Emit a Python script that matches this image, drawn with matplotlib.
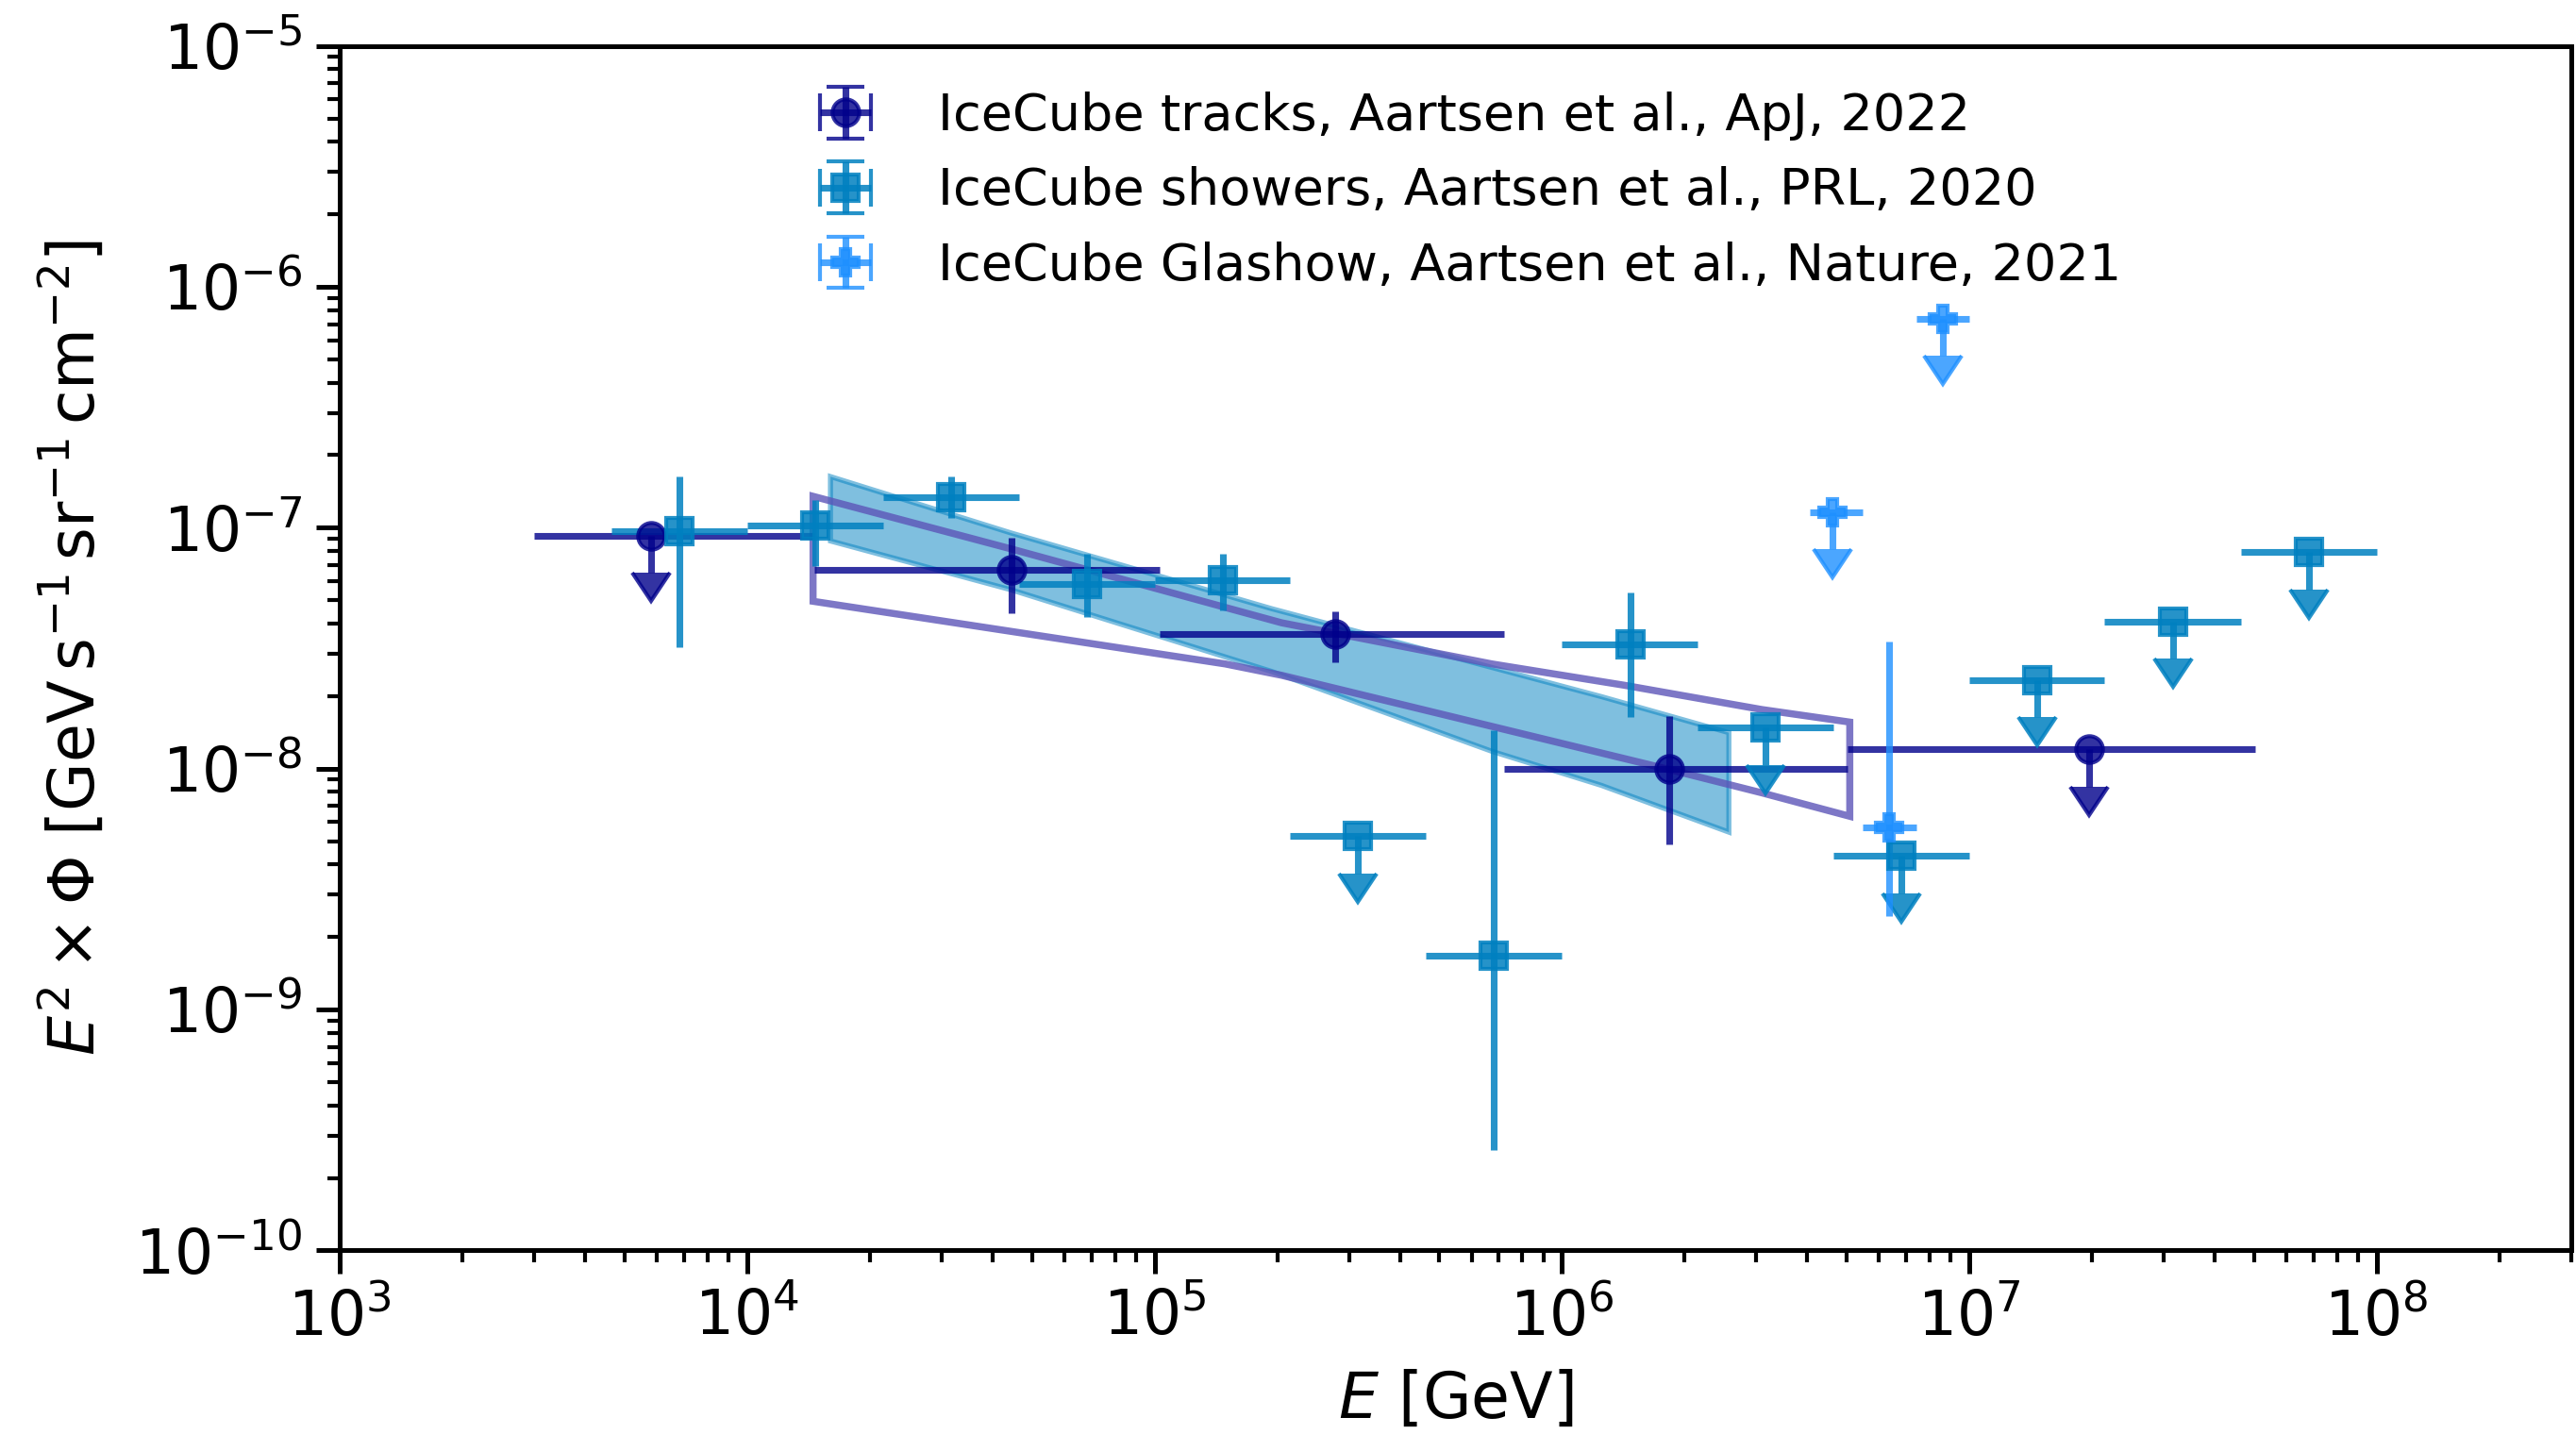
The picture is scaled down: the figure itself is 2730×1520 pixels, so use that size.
import numpy as np
import matplotlib
matplotlib.use('Agg')
import matplotlib.pyplot as plt

# IceCube tracks, Aartsen et al., ApJ 2022
tracks_E = [5.8e3, 4.46e4, 2.78e5, 1.83e6, 1.97e7]
tracks_E_lo = [3.0e3, 1.46e4, 1.03e5, 7.23e5, 5.03e6]
tracks_E_hi = [1.46e4, 1.03e5, 7.23e5, 5.03e6, 5.03e7]
tracks_F = [9.27e-8, 6.67e-8, 3.61e-8, 1.0e-8, 1.2e-8]
tracks_F_lo = [np.nan, 4.43e-8, 2.77e-8, 4.84e-9, np.nan]
tracks_F_hi = [np.nan, 9.1e-8, 4.5e-8, 1.65e-8, np.nan]
tracks_ul = [True, False, False, False, True]

# IceCube showers, Aartsen et al., PRL 2020
showers_E = [6.81e3, 1.47e4, 3.16e4, 6.81e4, 1.47e5, 3.16e5, 6.81e5,
             1.47e6, 3.16e6, 6.81e6, 1.47e7, 3.16e7, 6.81e7]
showers_E_lo = [4.64e3, 1.0e4, 2.15e4, 4.64e4, 1.0e5, 2.15e5, 4.64e5,
                1.0e6, 2.15e6, 4.64e6, 1.0e7, 2.15e7, 4.64e7]
showers_E_hi = [1.0e4, 2.15e4, 4.64e4, 1.0e5, 2.15e5, 4.64e5, 1.0e6,
                2.15e6, 4.64e6, 1.0e7, 2.15e7, 4.64e7, 1.0e8]
showers_F = [9.64e-8, 1.02e-7, 1.34e-7, 5.82e-8, 6.08e-8, 5.25e-9, 1.67e-9,
             3.27e-8, 1.48e-8, 4.35e-9, 2.33e-8, 4.09e-8, 7.92e-8]
showers_F_lo = [3.18e-8, 6.92e-8, 1.10e-7, 4.26e-8, 4.54e-8, np.nan, 2.6e-10,
                1.64e-8, np.nan, np.nan, np.nan, np.nan, np.nan]
showers_F_hi = [1.63e-7, 1.30e-7, 1.63e-7, 7.8e-8, 7.8e-8, np.nan, 1.44e-8,
                5.4e-8, np.nan, np.nan, np.nan, np.nan, np.nan]
showers_ul = [False, False, False, False, False, True, False,
              False, True, True, True, True, True]

# IceCube Glashow, Aartsen et al., Nature 2021
glashow_E = [4.62e6, 6.37e6, 8.63e6]
glashow_E_lo = [4.06e6, 5.47e6, 7.43e6]
glashow_E_hi = [5.47e6, 7.43e6, 1.0e7]
glashow_F = [1.16e-7, 5.71e-9, 7.38e-7]
glashow_F_lo = [np.nan, 2.45e-9, np.nan]
glashow_F_hi = [np.nan, 3.38e-8, np.nan]
glashow_ul = [True, False, True]

# shower fit band
band_E = [1.6e4, 4.45e4, 1.94e5, 6.73e5, 1.25e6, 2.57e6]
band_hi = [1.63e-7, 9.5e-8, 4.61e-8, 2.63e-8, 1.99e-8, 1.41e-8]
band_lo = [8.81e-8, 5.52e-8, 2.53e-8, 1.18e-8, 8.52e-9, 5.45e-9]

# track fit outline
trfit_up_E = [1.45e4, 4.45e4, 2.05e5, 6.73e5, 1.42e6, 3.09e6, 5.09e6]
trfit_up_F = [1.35e-7, 8.16e-8, 4.03e-8, 2.72e-8, 2.22e-8, 1.76e-8, 1.56e-8]
trfit_lo_E = [1.45e4, 1.49e5, 2.05e5, 1.82e6, 3.09e6, 5.09e6]
trfit_lo_F = [4.95e-8, 2.72e-8, 2.44e-8, 9.95e-9, 7.94e-9, 6.34e-9]

ARROW = 0.3  # length of upper-limit arrows, fraction of the value

c_tr = 'darkblue'
c_sh = '#0080c0'
c_gl = 'dodgerblue'
c_fit = '#5c55b8'


def errs(E, E_lo, E_hi, F, F_lo, F_hi, ul):
    E = np.array(E)
    F = np.array(F)
    ul = np.array(ul)
    xerr = [E - np.array(E_lo), np.array(E_hi) - E]
    lo = np.where(ul, ARROW * F, F - np.array(F_lo))
    hi = np.where(ul, 0.0, np.array(F_hi) - F)
    return xerr, [lo, hi]


fig, ax = plt.subplots(figsize=(9.1, 5.0667), dpi=300)
fig.subplots_adjust(left=0.132, right=0.998, top=0.968, bottom=0.128)

ax.fill(band_E + band_E[::-1], band_hi + band_lo[::-1],
        facecolor=c_sh, edgecolor=c_sh, alpha=0.5, lw=1.3)
ax.fill(trfit_up_E + trfit_lo_E[::-1], trfit_up_F + trfit_lo_F[::-1],
        fill=False, edgecolor=c_fit, alpha=0.8, lw=1.8)

sets = [
    (tracks_E, tracks_E_lo, tracks_E_hi, tracks_F, tracks_F_lo, tracks_F_hi,
     tracks_ul, 'o', c_tr, 0.8, 'IceCube tracks, Aartsen et al., ApJ, 2022'),
    (showers_E, showers_E_lo, showers_E_hi, showers_F, showers_F_lo,
     showers_F_hi, showers_ul, 's', c_sh, 0.85,
     'IceCube showers, Aartsen et al., PRL, 2020'),
    (glashow_E, glashow_E_lo, glashow_E_hi, glashow_F, glashow_F_lo,
     glashow_F_hi, glashow_ul, 'P', c_gl, 0.8,
     'IceCube Glashow, Aartsen et al., Nature, 2021'),
]

for E, E_lo, E_hi, F, F_lo, F_hi, ul, mk, col, al, lab in sets:
    xerr, yerr = errs(E, E_lo, E_hi, F, F_lo, F_hi, ul)
    eb = ax.errorbar(E, F, xerr=xerr, yerr=yerr, uplims=ul, fmt=mk,
                     color=col, alpha=al, ms=6.8, mew=1.0, elinewidth=1.7,
                     capsize=0, label=lab)
    for cap in eb[1]:
        cap.set_markersize(9.5)

ax.set_xscale('log')
ax.set_yscale('log')
ax.set_xlim(1e3, 3e8)
ax.set_ylim(1e-10, 1e-5)

ax.set_xlabel(r'$E$ [GeV]', fontsize=16, labelpad=5)
ax.set_ylabel(r'$E^2\times\Phi$ [GeV$\,$s$^{-1}\,$sr$^{-1}\,$cm$^{-2}$]',
              fontsize=16, labelpad=7)
ax.tick_params(which='major', labelsize=15.5, length=6, width=1.2)
ax.tick_params(which='minor', length=3.2, width=1.0)
for sp in ax.spines.values():
    sp.set_linewidth(1.2)

leg = ax.legend(loc='upper center', frameon=False, fontsize=13)
leg.set_bbox_to_anchor((0.501, 1.0))

fig.savefig('out.png', dpi=300)
